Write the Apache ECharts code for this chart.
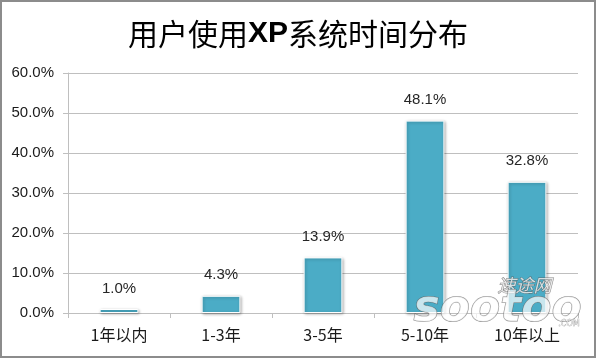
<!DOCTYPE html>
<html><head><meta charset="utf-8">
<script src="https://cdn.jsdelivr.net/npm/echarts@6/dist/echarts.min.js"></script>
<style>html,body{margin:0;padding:0;background:#fff}#c{width:596px;height:358px;box-sizing:border-box;border:2px solid #8c8c8c}</style>
</head><body><div id="c"></div>
<script>
const titleParts = ['用户使用', 'XP', '系统时间分布'];
const categories = ['1年以内', '1-3年', '3-5年', '5-10年', '10年以上'];
const values = [1.0, 4.3, 13.9, 48.1, 32.8];
const yTicks = {min: 0, max: 60, interval: 10};

const chart = echarts.init(document.getElementById('c'));
chart.setOption({
  animation: false,
  title: {text: titleParts[0] + '{b|' + titleParts[1] + '}' + titleParts[2], left: 'center', top: 12,
    textStyle: {fontFamily: 'Noto Sans CJK SC', fontSize: 30, fontWeight: 'normal', color: '#000',
      rich: {b: {fontFamily: 'Liberation Sans', fontSize: 30, fontWeight: 'bold', color: '#000'}}}},
  grid: {left: 66, right: 16, top: 71, bottom: 43},
  xAxis: {type: 'category', data: categories,
    axisLine: {lineStyle: {color: '#bfbfbf', width: 1}},
    axisTick: {show: true, length: 5, lineStyle: {color: '#bfbfbf'}},
    axisLabel: {color: '#1a1a1a', fontSize: 16, margin: 14, fontFamily: 'Noto Sans CJK SC'}},
  yAxis: {type: 'value', min: yTicks.min, max: yTicks.max, interval: yTicks.interval,
    axisLine: {show: true, lineStyle: {color: '#bfbfbf'}},
    axisTick: {show: true, length: 5, lineStyle: {color: '#bfbfbf'}},
    splitLine: {lineStyle: {color: '#bfbfbf'}},
    axisLabel: {color: '#1a1a1a', fontSize: 15, margin: 14, fontFamily: 'Liberation Sans',
      formatter: v => v.toFixed(1) + '%'}},
  series: [{type: 'bar', data: values, barWidth: '38%',
    itemStyle: {color: '#4bacc6', borderColor: '#ffffff', borderWidth: 1,
      shadowColor: 'rgba(0,0,0,0.3)', shadowBlur: 3, shadowOffsetX: 1, shadowOffsetY: 1},
    label: {show: true, position: 'top', distance: 13, color: '#262626', fontSize: 15,
      fontFamily: 'Liberation Sans', formatter: p => p.value.toFixed(1) + '%'}}],
  graphic: [
    {type: 'text', left: 495, top: 274, z: 100, style: {text: '速途网', fontSize: 18, fontStyle: 'italic',
      fill: 'rgba(255,255,255,0.75)', stroke: 'rgba(90,90,90,0.75)', lineWidth: 1, fontFamily: 'Noto Sans CJK SC'}},
    {type: 'text', left: 411, top: 285, z: 100, style: {text: 'sootoo', fontSize: 44, fontStyle: 'italic', fontWeight: 'bold',
      fill: 'rgba(255,255,255,0.7)', stroke: 'rgba(90,90,90,0.7)', lineWidth: 1, fontFamily: 'DejaVu Sans'}},
    {type: 'text', left: 556, top: 318, z: 100, style: {text: '.COM', fontSize: 8,
      fill: 'rgba(255,255,255,0.7)', stroke: 'rgba(90,90,90,0.7)', lineWidth: 0.5, fontFamily: 'DejaVu Sans'}}
  ]
});
</script></body></html>
